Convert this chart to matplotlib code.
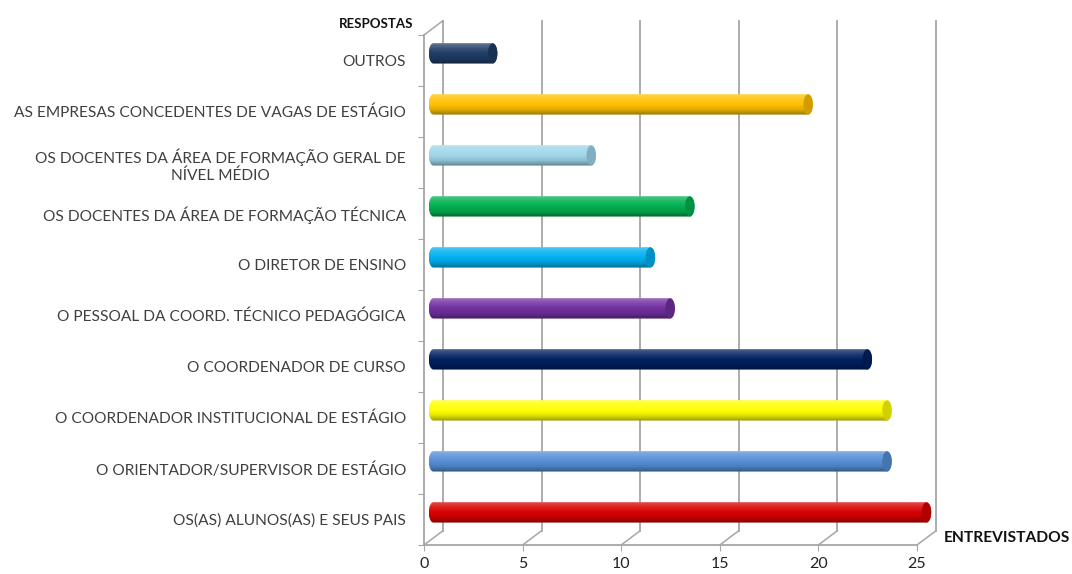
import numpy as np
import matplotlib
matplotlib.use("Agg")
from matplotlib import pyplot as plt
from matplotlib.patches import PathPatch, Ellipse
from matplotlib.path import Path
from matplotlib.colors import to_rgb

plt.rcParams['font.family'] = ['Lato', 'DejaVu Sans']

# answers, listed top to bottom as they appear
respostas = [
    "OUTROS",
    "AS EMPRESAS CONCEDENTES DE VAGAS DE ESTÁGIO",
    "OS DOCENTES DA ÁREA DE FORMAÇÃO GERAL DE\nNÍVEL MÉDIO",
    "OS DOCENTES DA ÁREA DE FORMAÇÃO TÉCNICA",
    "O DIRETOR DE ENSINO",
    "O PESSOAL DA COORD. TÉCNICO PEDAGÓGICA",
    "O COORDENADOR DE CURSO",
    "O COORDENADOR INSTITUCIONAL DE ESTÁGIO",
    "O ORIENTADOR/SUPERVISOR DE ESTÁGIO",
    "OS(AS) ALUNOS(AS) E SEUS PAIS",
]
entrevistados = [3, 19, 8, 13, 11, 12, 22, 23, 23, 25]
cores = ["#1f3d66", "#ffc000", "#9fd6ea", "#00b050", "#00b0f0",
         "#7030a0", "#002060", "#ffff00", "#558ed5", "#d80000"]
xticks = [0, 5, 10, 15, 20, 25]

GRID = "#a6a6a6"
DX, DY = 0.96, 0.28     # depth of the 3d box, in data units
BAR_H = 0.40
CAP_R = 0.24


def shade(c, f):
    c = np.array(to_rgb(c))
    if f >= 0:
        return c + (1 - c) * f
    return c * (1 + f)


fig = plt.figure(figsize=(10.72, 5.74), dpi=100)
ax = fig.add_axes([424 / 1072, 29 / 574, 493 / 1072, 510 / 574])

n = len(respostas)
pos = np.arange(n)
top, bottom = -0.5, n - 0.5

# back wall gridlines and floor diagonals
for x in xticks:
    ax.plot([x + DX, x + DX], [bottom - DY, top - DY], color=GRID, lw=1.3,
            clip_on=False, zorder=1)
    ax.plot([x, x + DX], [bottom, bottom - DY], color=GRID, lw=1.1,
            clip_on=False, zorder=1)
ax.plot([0, DX], [top, top - DY], color=GRID, lw=1.1, clip_on=False, zorder=1)

# cylinders, placed halfway into the depth
t = np.linspace(-np.pi / 2, np.pi / 2, 40)
k = np.linspace(0, 1, 64)
for i, (v, c) in enumerate(zip(entrevistados, cores)):
    yc = pos[i] - DY / 2
    x0 = DX / 2
    x1 = v + DX / 2
    hh = BAR_H / 2
    right = np.column_stack([x1 + CAP_R * np.cos(t), yc + hh * np.sin(t)])
    left = np.column_stack([x0 - CAP_R * np.cos(t[::-1]), yc + hh * np.sin(t[::-1])])
    outline = PathPatch(Path(np.vstack([right, left, right[:1]])),
                        facecolor="none", edgecolor="none", clip_on=False)
    ax.add_patch(outline)

    stops = [shade(c, 0.30), shade(c, 0.12), shade(c, 0.0), shade(c, -0.12), shade(c, -0.40)]
    grad = np.column_stack([np.interp(k, np.linspace(0, 1, 5), [s[j] for s in stops])
                            for j in range(3)])
    im = ax.imshow(grad[:, None, :], extent=(x0 - CAP_R, x1 + CAP_R, yc + hh, yc - hh),
                   aspect="auto", interpolation="bilinear", zorder=3)
    im.set_clip_box(fig.bbox)
    im.set_clip_path(outline)

    cap = Ellipse((x1, yc), 2 * CAP_R, BAR_H * 0.98, facecolor=shade(c, -0.18),
                  edgecolor="none", zorder=4, clip_on=False)
    ax.add_patch(cap)

ax.set_xlim(0, 25)
ax.set_ylim(bottom, top)

# front axes
for s in ["top", "right"]:
    ax.spines[s].set_visible(False)
for s in ["left", "bottom"]:
    ax.spines[s].set_color(GRID)
    ax.spines[s].set_linewidth(1.3)

ax.set_xticks(xticks)
ax.set_xticklabels([str(x) for x in xticks], fontsize=11.5, color="#222222")
ax.tick_params(axis="x", length=4, color=GRID, pad=5)

ax.set_yticks(np.arange(n + 1) - 0.5)
ax.set_yticklabels([])
ax.tick_params(axis="y", which="major", length=4, color=GRID)
ax.set_yticks(pos, respostas, minor=True)
ax.tick_params(axis="y", which="minor", length=0, pad=13, labelsize=11.2,
               labelcolor="#404040")
for lab in ax.get_yticklabels(minor=True):
    lab.set_multialignment("center")
    lab.set_linespacing(1.3)

fig.text(413 / 1072, 1 - 24 / 574, "RESPOSTAS", ha="right", va="center",
         fontsize=9.5, fontweight="bold", color="#111111")
fig.text(944 / 1072, 1 - 538 / 574, "ENTREVISTADOS", ha="left", va="center",
         fontsize=11.2, fontweight="bold", color="#111111")

fig.savefig("out.png", dpi=100)
